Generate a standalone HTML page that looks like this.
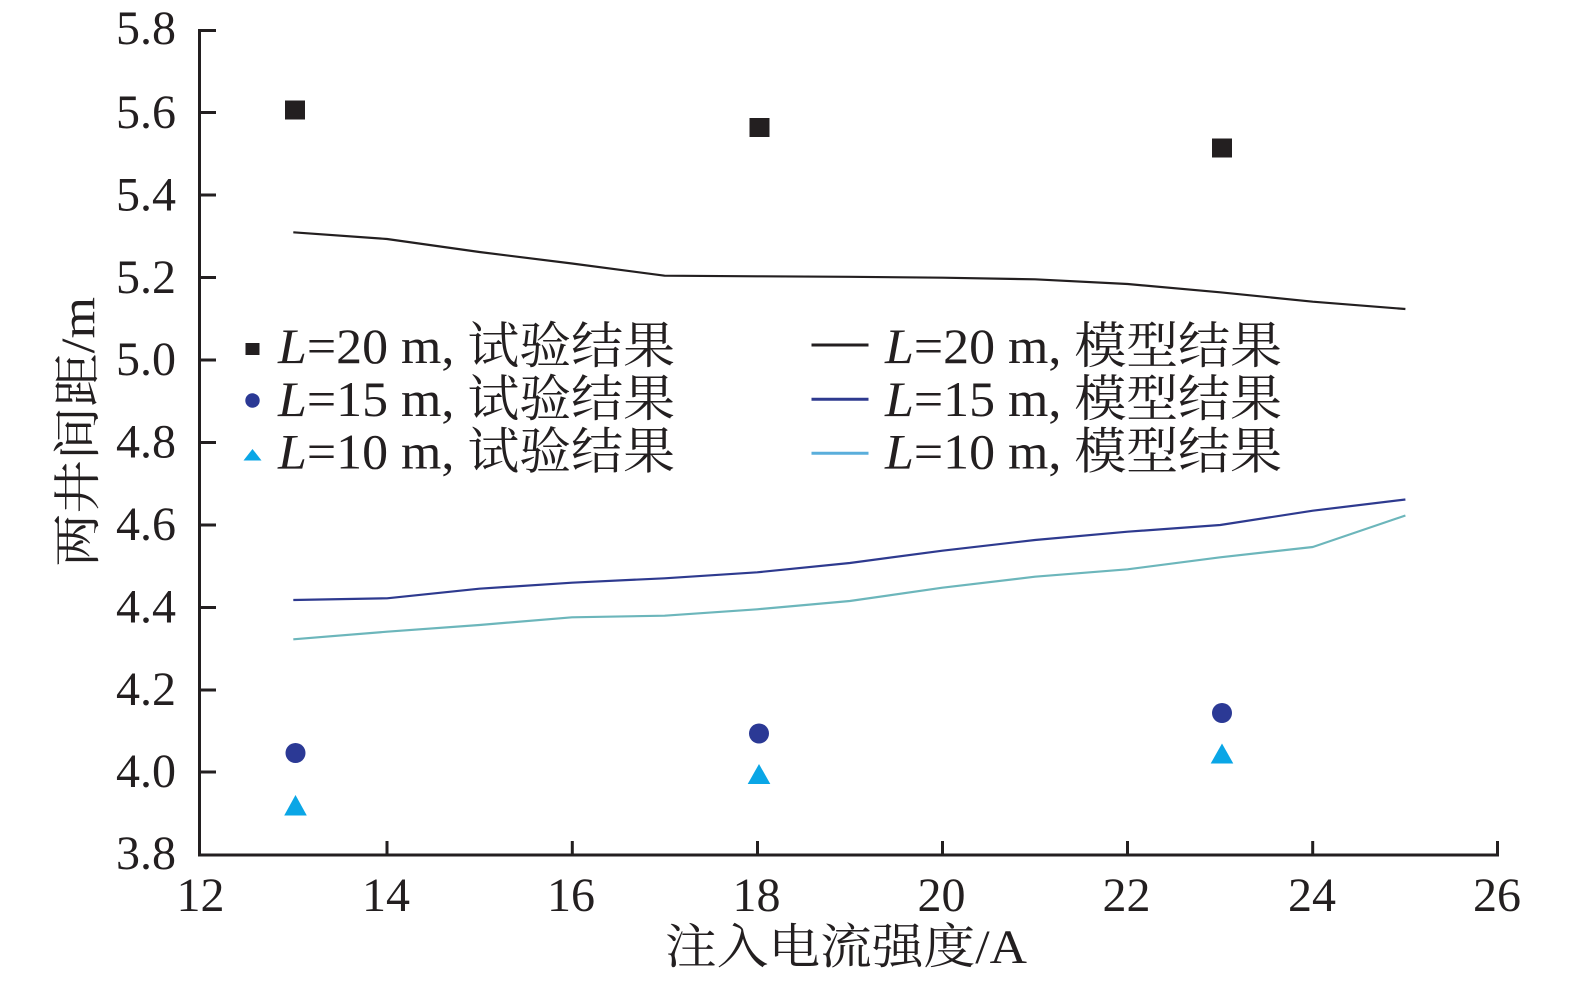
<!DOCTYPE html>
<html>
<head>
<meta charset="utf-8">
<style>
  html, body { margin: 0; padding: 0; background: #ffffff; }
  svg { display: block; }
  text { font-family: "Liberation Serif", "Noto Serif CJK SC", serif; fill: #231f20; }
</style>
</head>
<body>
<svg width="1575" height="986" viewBox="0 0 1575 986" xmlns="http://www.w3.org/2000/svg">
  <rect x="0" y="0" width="1575" height="986" fill="#ffffff"/>

  <!-- Axes -->
  <g stroke="#231f20" stroke-width="3" fill="none">
    <line x1="199.5" y1="29" x2="199.5" y2="856.5"/>
    <line x1="198" y1="855" x2="1499" y2="855"/>
    <!-- y ticks -->
    <line x1="199" y1="30.5" x2="216" y2="30.5"/>
    <line x1="199" y1="112.5" x2="216" y2="112.5"/>
    <line x1="199" y1="195" x2="216" y2="195"/>
    <line x1="199" y1="277.5" x2="216" y2="277.5"/>
    <line x1="199" y1="360" x2="216" y2="360"/>
    <line x1="199" y1="442.5" x2="216" y2="442.5"/>
    <line x1="199" y1="525" x2="216" y2="525"/>
    <line x1="199" y1="607.5" x2="216" y2="607.5"/>
    <line x1="199" y1="690" x2="216" y2="690"/>
    <line x1="199" y1="772" x2="216" y2="772"/>
    <!-- x ticks -->
    <line x1="387" y1="841" x2="387" y2="855"/>
    <line x1="572.3" y1="841" x2="572.3" y2="855"/>
    <line x1="757.5" y1="841" x2="757.5" y2="855"/>
    <line x1="942.5" y1="841" x2="942.5" y2="855"/>
    <line x1="1127.5" y1="841" x2="1127.5" y2="855"/>
    <line x1="1312.7" y1="841" x2="1312.7" y2="855"/>
    <line x1="1497.5" y1="841" x2="1497.5" y2="855"/>
  </g>

  <!-- Y tick labels -->
  <g font-size="48" text-anchor="end">
    <text x="176" y="44">5.8</text>
    <text x="176" y="128">5.6</text>
    <text x="176" y="210.5">5.4</text>
    <text x="176" y="293">5.2</text>
    <text x="176" y="375">5.0</text>
    <text x="176" y="457.5">4.8</text>
    <text x="176" y="540">4.6</text>
    <text x="176" y="622.5">4.4</text>
    <text x="176" y="705">4.2</text>
    <text x="176" y="787">4.0</text>
    <text x="176" y="869">3.8</text>
  </g>

  <!-- X tick labels -->
  <g font-size="48" text-anchor="middle">
    <text x="200.5" y="911">12</text>
    <text x="386" y="911">14</text>
    <text x="571" y="911">16</text>
    <text x="756.5" y="911">18</text>
    <text x="941.5" y="911">20</text>
    <text x="1126.5" y="911">22</text>
    <text x="1312" y="911">24</text>
    <text x="1497" y="911">26</text>
  </g>

  <!-- Axis titles -->
  <text x="665" y="963" font-size="48" textLength="362" lengthAdjust="spacingAndGlyphs">注入电流强度/A</text>
  <text transform="translate(94,567) rotate(-90)" x="0" y="0" font-size="48" textLength="270" lengthAdjust="spacingAndGlyphs">两井间距/m</text>

  <!-- Model lines -->
  <polyline fill="none" stroke="#231f20" stroke-width="2.2" stroke-linejoin="round"
    points="293.3,232.3 387,239 479.4,252 572,263.5 664.6,275.7 757.2,276.3 849.8,276.8 942.4,277.7 1035,279.3 1127.6,284 1220.2,292.3 1312.8,301.7 1405.4,309"/>
  <polyline fill="none" stroke="#2e3a8f" stroke-width="2.2" stroke-linejoin="round"
    points="293.3,600 387,598.3 479.4,588.7 572,582.7 664.6,578.3 757.2,572.3 849.8,563 942.4,550.7 1035,540 1127.6,531.7 1220.2,525 1312.8,510.7 1405.4,499.5"/>
  <polyline fill="none" stroke="#6cb6bb" stroke-width="2.2" stroke-linejoin="round"
    points="293.3,639.3 387,631.7 479.4,625 572,617.3 664.6,615.7 757.2,609.3 849.8,601 942.4,587.7 1035,576.7 1127.6,569.3 1220.2,557.3 1312.8,547 1405.4,515.5"/>

  <!-- Experimental markers -->
  <g fill="#231f20">
    <rect x="285" y="100.5" width="20" height="19"/>
    <rect x="749.5" y="118" width="20" height="19"/>
    <rect x="1212" y="138.5" width="20" height="19"/>
  </g>
  <g fill="#2b3995">
    <circle cx="295.5" cy="753" r="10"/>
    <circle cx="759" cy="733.5" r="10"/>
    <circle cx="1222" cy="713" r="10"/>
  </g>
  <g fill="#0aa6e6">
    <polygon points="295.5,795 306.8,815.5 284.2,815.5"/>
    <polygon points="759,764 770.3,784 747.7,784"/>
    <polygon points="1222,743.5 1233.3,763.5 1210.7,763.5"/>
  </g>

  <!-- Legend left -->
  <rect x="245.5" y="343" width="14" height="12" fill="#231f20"/>
  <circle cx="252.5" cy="400.5" r="7.2" fill="#2b3995"/>
  <polygon points="252.5,449 261.5,460.5 243.5,460.5" fill="#0aa6e6"/>
  <g font-size="50">
    <text x="278" y="363" textLength="397" lengthAdjust="spacingAndGlyphs"><tspan font-style="italic">L</tspan>=20 m, 试验结果</text>
    <text x="278" y="416" textLength="397" lengthAdjust="spacingAndGlyphs"><tspan font-style="italic">L</tspan>=15 m, 试验结果</text>
    <text x="278" y="468.5" textLength="397" lengthAdjust="spacingAndGlyphs"><tspan font-style="italic">L</tspan>=10 m, 试验结果</text>
  </g>

  <!-- Legend right -->
  <line x1="811.5" y1="345" x2="868.5" y2="345" stroke="#231f20" stroke-width="3"/>
  <line x1="811.5" y1="399.3" x2="868.5" y2="399.3" stroke="#2e3a8f" stroke-width="3"/>
  <line x1="811.5" y1="453.3" x2="868.5" y2="453.3" stroke="#5aaedb" stroke-width="3"/>
  <g font-size="50">
    <text x="885" y="363" textLength="397" lengthAdjust="spacingAndGlyphs"><tspan font-style="italic">L</tspan>=20 m, 模型结果</text>
    <text x="885" y="416" textLength="397" lengthAdjust="spacingAndGlyphs"><tspan font-style="italic">L</tspan>=15 m, 模型结果</text>
    <text x="885" y="468.5" textLength="397" lengthAdjust="spacingAndGlyphs"><tspan font-style="italic">L</tspan>=10 m, 模型结果</text>
  </g>
</svg>
</body>
</html>
